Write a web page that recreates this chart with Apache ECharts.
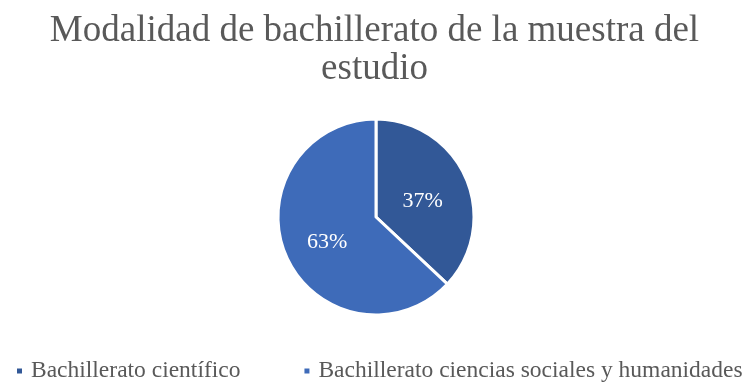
<!DOCTYPE html>
<html>
<head>
<meta charset="utf-8">
<script src="https://cdn.jsdelivr.net/npm/echarts@6/dist/echarts.min.js"></script>
<style>
  html, body { margin: 0; padding: 0; background: #ffffff; }
  #chart { width: 749px; height: 383px; }
</style>
</head>
<body>
<div id="chart"></div>
<script>
// Modalidad de bachillerato: share of the sample by track
const categories = ['Bachillerato científico', 'Bachillerato ciencias sociales y humanidades'];
const percentages = [37, 63];
const sliceColors = ['#325897', '#3E6BB9'];

const serif = '"Liberation Serif", "Times New Roman", serif';

const chart = echarts.init(document.getElementById('chart'));
chart.setOption({
  backgroundColor: '#ffffff',
  animation: false,
  title: {
    text: 'Modalidad de bachillerato de la muestra del\nestudio',
    left: 'center',
    top: 7,
    textStyle: {
      fontFamily: serif,
      fontSize: 37,
      fontWeight: 'normal',
      color: '#595959',
      lineHeight: 38
    }
  },
  legend: {
    data: categories,
    left: 15,
    top: 359,
    padding: 0,
    icon: 'rect',
    itemWidth: 7,
    itemHeight: 7,
    itemGap: 62,
    textStyle: {
      fontFamily: serif,
      fontSize: 23.5,
      color: '#595959',
      padding: [0, 0, 0, 3]
    }
  },
  series: [{
    type: 'pie',
    center: [376, 217],
    radius: 98,
    startAngle: 90,
    clockwise: true,
    itemStyle: { borderColor: '#ffffff', borderWidth: 3 },
    label: {
      show: true,
      position: 'inside',
      formatter: '{c}%',
      fontFamily: serif,
      fontSize: 22,
      color: '#ffffff',
      offset: [-1, 5]
    },
    labelLine: { show: false },
    emphasis: { disabled: true },
    data: categories.map((name, i) => ({
      name: name,
      value: percentages[i],
      itemStyle: { color: sliceColors[i] }
    }))
  }]
});
</script>
</body>
</html>
